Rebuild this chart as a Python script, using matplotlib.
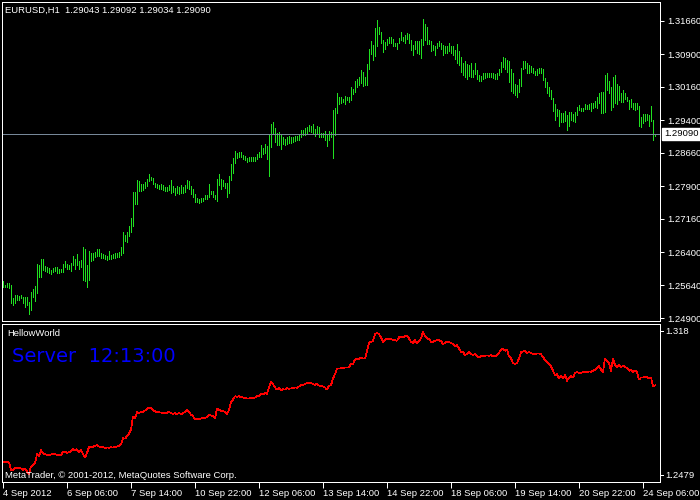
import matplotlib
matplotlib.use("Agg")
import matplotlib.pyplot as plt
from matplotlib.transforms import blended_transform_factory

# chart header
symbol = "EURUSD,H1"
last_ohlc = ["1.29043", "1.29092", "1.29034", "1.29090"]
bid = 1.29090
server_time = "Server  12:13:00"
indicator_name = "HellowWorld"
copyright_text = "MetaTrader, \u00a9 2001-2012, MetaQuotes Software Corp."

# hourly bars (4 Sep 2012 .. 24 Sep 2012 12:00)
bar_high = [
    1.2575, 1.2566, 1.2570, 1.2569, 1.2566, 1.2535, 1.2543, 1.2543, 1.2541, 1.2543, 1.2538, 1.2538, 1.2538, 1.2526, 1.2549, 1.2556, 1.2563,
    1.2613, 1.2611, 1.2625, 1.2625, 1.2608, 1.2607, 1.2604, 1.2599, 1.2604, 1.2607, 1.2607, 1.2602, 1.2601, 1.2613, 1.2620, 1.2614, 1.2611, 1.2616, 1.2631, 1.2625, 1.2635, 1.2620, 1.2622,
    1.2652, 1.2648, 1.2610, 1.2643, 1.2638, 1.2638, 1.2640, 1.2648, 1.2648, 1.2637, 1.2635, 1.2634, 1.2632, 1.2643, 1.2634, 1.2635, 1.2637, 1.2638, 1.2640, 1.2651,
    1.2686, 1.2679, 1.2686, 1.2699, 1.2717, 1.2777, 1.2777, 1.2805, 1.2802, 1.2795, 1.2795, 1.2799, 1.2807, 1.2818, 1.2812, 1.2808, 1.2798, 1.2795, 1.2792, 1.2795,
    1.2792, 1.2789, 1.2789, 1.2792, 1.2804, 1.2790, 1.2786, 1.2790, 1.2789, 1.2792, 1.2789, 1.2792, 1.2804, 1.2801, 1.2790, 1.2784, 1.2772, 1.2763, 1.2761, 1.2763,
    1.2764, 1.2769, 1.2769, 1.2795, 1.2780, 1.2778, 1.2771, 1.2807, 1.2818, 1.2807, 1.2805, 1.2798, 1.2798, 1.2813,
    1.2841, 1.2854, 1.2869, 1.2865, 1.2868, 1.2868, 1.2860, 1.2859, 1.2854, 1.2856, 1.2856, 1.2856, 1.2857, 1.2863, 1.2868, 1.2884, 1.2877, 1.2886, 1.2881, 1.2907,
    1.2932, 1.2936, 1.2922, 1.2912, 1.2913, 1.2907, 1.2901, 1.2897, 1.2901, 1.2904, 1.2901, 1.2901, 1.2904, 1.2904, 1.2906, 1.2918, 1.2919, 1.2922, 1.2924, 1.2930,
    1.2927, 1.2932, 1.2921, 1.2928, 1.2924, 1.2912, 1.2912, 1.2915, 1.2907, 1.2915, 1.2913, 1.2963, 1.2968, 1.3001, 1.2994, 1.2992, 1.2989, 1.2995, 1.2994, 1.2992,
    1.3015, 1.3012, 1.3029, 1.3033, 1.3038, 1.3054, 1.3050, 1.3039, 1.3068, 1.3103, 1.3120, 1.3112, 1.3150, 1.3168, 1.3152, 1.3141, 1.3123, 1.3118, 1.3124, 1.3129,
    1.3130, 1.3124, 1.3117, 1.3117, 1.3127, 1.3141, 1.3130, 1.3135, 1.3138, 1.3136, 1.3123, 1.3111, 1.3120, 1.3121, 1.3120, 1.3126, 1.3171, 1.3158, 1.3153, 1.3123,
    1.3121, 1.3112, 1.3109, 1.3117, 1.3120, 1.3117, 1.3112, 1.3109, 1.3109, 1.3115,
    1.3108, 1.3108, 1.3101, 1.3114, 1.3098, 1.3085, 1.3070, 1.3076, 1.3068, 1.3065, 1.3070, 1.3054, 1.3070, 1.3054, 1.3042, 1.3041, 1.3047, 1.3048, 1.3048, 1.3048,
    1.3048, 1.3048, 1.3045, 1.3048, 1.3056, 1.3073, 1.3085, 1.3082, 1.3077, 1.3076, 1.3057, 1.3047, 1.3023, 1.3020, 1.3035, 1.3060, 1.3074, 1.3076, 1.3071, 1.3065,
    1.3064, 1.3059, 1.3053, 1.3056, 1.3059, 1.3059, 1.3057, 1.3036, 1.3027, 1.3015, 1.3010, 1.2991, 1.2977, 1.2966, 1.2963, 1.2957, 1.2957, 1.2962, 1.2953, 1.2959,
    1.2959, 1.2954, 1.2959, 1.2971, 1.2974, 1.2969, 1.2969, 1.2977, 1.2974, 1.2977, 1.2980, 1.2979, 1.2985, 1.2992, 1.3001, 1.3004, 1.3004, 1.3042, 1.3048, 1.3030,
    1.3015, 1.3039, 1.3044, 1.3023, 1.3018, 1.3003, 1.3009, 1.3003, 1.2992, 1.2986, 1.2989, 1.2980, 1.2979, 1.2980, 1.2972, 1.2947, 1.2954, 1.2954, 1.2954, 1.2951, 1.2972, 1.2941, 1.29092,
]
bar_low = [
    1.2561, 1.2560, 1.2561, 1.2558, 1.2525, 1.2520, 1.2525, 1.2532, 1.2531, 1.2535, 1.2525, 1.2516, 1.2519, 1.2500, 1.2509, 1.2538, 1.2529,
    1.2546, 1.2584, 1.2584, 1.2599, 1.2596, 1.2594, 1.2593, 1.2591, 1.2594, 1.2596, 1.2593, 1.2593, 1.2594, 1.2594, 1.2607, 1.2602, 1.2601, 1.2598, 1.2610, 1.2601, 1.2611, 1.2602, 1.2605,
    1.2576, 1.2575, 1.2560, 1.2576, 1.2619, 1.2622, 1.2628, 1.2632, 1.2631, 1.2626, 1.2626, 1.2625, 1.2623, 1.2625, 1.2625, 1.2626, 1.2626, 1.2628, 1.2629, 1.2634,
    1.2637, 1.2666, 1.2663, 1.2676, 1.2686, 1.2699, 1.2749, 1.2749, 1.2780, 1.2780, 1.2781, 1.2786, 1.2790, 1.2802, 1.2804, 1.2796, 1.2789, 1.2786, 1.2783, 1.2784,
    1.2781, 1.2780, 1.2780, 1.2781, 1.2774, 1.2777, 1.2769, 1.2774, 1.2772, 1.2774, 1.2774, 1.2777, 1.2787, 1.2783, 1.2772, 1.2766, 1.2754, 1.2754, 1.2752, 1.2754,
    1.2757, 1.2760, 1.2761, 1.2766, 1.2772, 1.2766, 1.2760, 1.2757, 1.2792, 1.2784, 1.2790, 1.2787, 1.2766, 1.2774,
    1.2804, 1.2819, 1.2842, 1.2854, 1.2856, 1.2856, 1.2853, 1.2850, 1.2844, 1.2848, 1.2848, 1.2847, 1.2848, 1.2851, 1.2857, 1.2857, 1.2863, 1.2865, 1.2853, 1.2813,
    1.2880, 1.2909, 1.2890, 1.2884, 1.2883, 1.2875, 1.2886, 1.2883, 1.2886, 1.2889, 1.2889, 1.2890, 1.2892, 1.2894, 1.2895, 1.2903, 1.2906, 1.2907, 1.2910, 1.2916,
    1.2913, 1.2909, 1.2904, 1.2910, 1.2903, 1.2903, 1.2901, 1.2894, 1.2881, 1.2895, 1.2903, 1.2854, 1.2907, 1.2956, 1.2977, 1.2980, 1.2982, 1.2977, 1.2986, 1.2982,
    1.2986, 1.3000, 1.3004, 1.3015, 1.3020, 1.3024, 1.3018, 1.3020, 1.3020, 1.3057, 1.3091, 1.3077, 1.3086, 1.3108, 1.3136, 1.3117, 1.3096, 1.3102, 1.3111, 1.3115,
    1.3115, 1.3108, 1.3108, 1.3103, 1.3115, 1.3123, 1.3120, 1.3115, 1.3124, 1.3115, 1.3100, 1.3088, 1.3102, 1.3093, 1.3091, 1.3082, 1.3112, 1.3123, 1.3114, 1.3114,
    1.3097, 1.3100, 1.3088, 1.3105, 1.3108, 1.3103, 1.3089, 1.3093, 1.3093, 1.3097,
    1.3094, 1.3089, 1.3080, 1.3070, 1.3065, 1.3050, 1.3044, 1.3039, 1.3035, 1.3041, 1.3039, 1.3039, 1.3045, 1.3033, 1.3030, 1.3029, 1.3035, 1.3036, 1.3039, 1.3039,
    1.3038, 1.3036, 1.3033, 1.3035, 1.3042, 1.3050, 1.3062, 1.3057, 1.3051, 1.3026, 1.3007, 1.3003, 1.2998, 1.2992, 1.3004, 1.3018, 1.3057, 1.3060, 1.3048, 1.3047,
    1.3050, 1.3047, 1.3042, 1.3044, 1.3047, 1.3048, 1.3032, 1.3015, 1.3003, 1.2995, 1.2988, 1.2962, 1.2941, 1.2950, 1.2928, 1.2936, 1.2936, 1.2939, 1.2919, 1.2927,
    1.2941, 1.2938, 1.2935, 1.2951, 1.2963, 1.2962, 1.2960, 1.2965, 1.2965, 1.2966, 1.2962, 1.2968, 1.2971, 1.2969, 1.2980, 1.2956, 1.2956, 1.2959, 1.3009, 1.3001,
    1.2963, 1.2971, 1.2979, 1.2977, 1.2986, 1.2982, 1.2982, 1.2988, 1.2985, 1.2966, 1.2971, 1.2965, 1.2963, 1.2966, 1.2927, 1.2925, 1.2933, 1.2939, 1.2941, 1.2928, 1.2939, 1.2895, 1.29034,
]
bar_close = [
    1.2563, 1.2564, 1.2566, 1.2562, 1.2530, 1.2528, 1.2538, 1.2536, 1.2538, 1.2536, 1.2530, 1.2534, 1.2522, 1.2510, 1.2545, 1.2550, 1.2558,
    1.2600, 1.2590, 1.2618, 1.2605, 1.2600, 1.2597, 1.2596, 1.2598, 1.2601, 1.2600, 1.2597, 1.2598, 1.2596, 1.2610, 1.2612, 1.2606, 1.2609, 1.2614, 1.2622, 1.2618, 1.2622, 1.2608, 1.2618,
    1.2600, 1.2585, 1.2605, 1.2632, 1.2630, 1.2632, 1.2638, 1.2640, 1.2634, 1.2630, 1.2632, 1.2628, 1.2630, 1.2629, 1.2631, 1.2630, 1.2633, 1.2634, 1.2638, 1.2645,
    1.2672, 1.2670, 1.2680, 1.2692, 1.2710, 1.2770, 1.2760, 1.2790, 1.2785, 1.2790, 1.2790, 1.2796, 1.2805, 1.2808, 1.2806, 1.2800, 1.2792, 1.2790, 1.2788, 1.2788,
    1.2785, 1.2786, 1.2786, 1.2790, 1.2784, 1.2781, 1.2784, 1.2780, 1.2786, 1.2780, 1.2784, 1.2790, 1.2798, 1.2788, 1.2778, 1.2770, 1.2758, 1.2757, 1.2759, 1.2760,
    1.2762, 1.2764, 1.2766, 1.2776, 1.2774, 1.2770, 1.2762, 1.2805, 1.2800, 1.2795, 1.2794, 1.2790, 1.2780, 1.2800,
    1.2835, 1.2845, 1.2860, 1.2858, 1.2860, 1.2857, 1.2855, 1.2852, 1.2850, 1.2850, 1.2852, 1.2850, 1.2855, 1.2860, 1.2860, 1.2872, 1.2868, 1.2877, 1.2870, 1.2900,
    1.2926, 1.2915, 1.2900, 1.2890, 1.2900, 1.2888, 1.2892, 1.2890, 1.2896, 1.2894, 1.2895, 1.2897, 1.2900, 1.2898, 1.2904, 1.2912, 1.2910, 1.2916, 1.2920, 1.2922,
    1.2920, 1.2915, 1.2912, 1.2918, 1.2908, 1.2906, 1.2904, 1.2900, 1.2890, 1.2908, 1.2910, 1.2940, 1.2960, 1.2985, 1.2985, 1.2986, 1.2986, 1.2990, 1.2990, 1.2990,
    1.3008, 1.3006, 1.3025, 1.3030, 1.3028, 1.3035, 1.3030, 1.3030, 1.3062, 1.3100, 1.3105, 1.3108, 1.3140, 1.3145, 1.3140, 1.3125, 1.3105, 1.3115, 1.3118, 1.3120,
    1.3118, 1.3112, 1.3112, 1.3110, 1.3125, 1.3128, 1.3125, 1.3130, 1.3130, 1.3120, 1.3105, 1.3100, 1.3112, 1.3100, 1.3110, 1.3120, 1.3150, 1.3130, 1.3120, 1.3118,
    1.3105, 1.3105, 1.3110, 1.3112, 1.3112, 1.3108, 1.3095, 1.3100, 1.3105, 1.3104,
    1.3100, 1.3095, 1.3085, 1.3090, 1.3075, 1.3060, 1.3062, 1.3045, 1.3050, 1.3060, 1.3050, 1.3045, 1.3050, 1.3040, 1.3035, 1.3040, 1.3040, 1.3042, 1.3044, 1.3042,
    1.3045, 1.3040, 1.3040, 1.3045, 1.3055, 1.3070, 1.3075, 1.3065, 1.3070, 1.3040, 1.3030, 1.3010, 1.3005, 1.3010, 1.3030, 1.3058, 1.3062, 1.3065, 1.3055, 1.3058,
    1.3055, 1.3050, 1.3048, 1.3052, 1.3052, 1.3050, 1.3035, 1.3025, 1.3012, 1.3005, 1.2995, 1.2975, 1.2955, 1.2960, 1.2940, 1.2950, 1.2942, 1.2955, 1.2930, 1.2945,
    1.2950, 1.2945, 1.2965, 1.2968, 1.2965, 1.2966, 1.2968, 1.2970, 1.2968, 1.2972, 1.2970, 1.2975, 1.2980, 1.2988, 1.2995, 1.2980, 1.2970, 1.3030, 1.3020, 1.3010,
    1.2975, 1.3030, 1.3000, 1.2990, 1.3000, 1.2990, 1.2998, 1.2992, 1.2988, 1.2975, 1.2980, 1.2970, 1.2975, 1.2970, 1.2935, 1.2945, 1.2945, 1.2948, 1.2946, 1.2940, 1.2945, 1.2905, 1.2909,
]

price_ticks = [1.3166, 1.3090, 1.3016, 1.2940, 1.2866, 1.2790, 1.2716, 1.2640, 1.2564, 1.2490]
time_labels = ["4 Sep 2012", "6 Sep 06:00", "7 Sep 14:00", "10 Sep 22:00", "12 Sep 06:00",
               "13 Sep 14:00", "14 Sep 22:00", "18 Sep 06:00", "19 Sep 14:00", "20 Sep 22:00",
               "24 Sep 06:00"]
ind_max, ind_min = 1.318, 1.2479

BAR_COLOR = "#20E020"
PX = 0.72  # one pixel in points at 100 dpi
small = dict(family="Liberation Sans", size=6.8)

fig = plt.figure(figsize=(7, 5), dpi=100, facecolor="black")
W, H = 700, 500
ax = fig.add_axes([2 / W, 1 - 321 / H, 658 / W, 319 / H], facecolor="black")
ax2 = fig.add_axes([2 / W, 1 - 482 / H, 658 / W, 158 / H], facecolor="black")

n = len(bar_high)
xs = list(range(n))

# price bars
ax.vlines(xs, bar_low, bar_high, colors=BAR_COLOR, linewidth=PX, antialiased=False)
ax.axhline(bid, color="#778899", linewidth=PX, antialiased=False)
ax.set_xlim(-0.5, 328.5)
ax.set_ylim(1.24832, 1.32092)

# indicator window (close line)
ax2.plot(xs, bar_close, color="red", linewidth=0.5, antialiased=False)
ax2.set_xlim(-0.5, 328.5)
ax2.set_ylim(1.2475, 1.3185)

for a in (ax, ax2):
    for s in a.spines.values():
        s.set_color("white")
        s.set_linewidth(PX)
    a.yaxis.tick_right()
    a.tick_params(colors="white", length=3, width=PX, pad=2, labelsize=6.8)

ax.set_xticks([])
ax.set_yticks(price_ticks)
ax.set_yticklabels([f"{v:.5f}" for v in price_ticks], **small)

# indicator scale labels sit just inside the window edges, with a short tick
trans2 = blended_transform_factory(ax2.transAxes, ax2.transAxes)
ax2.set_yticks([])
for frac, val in ((1 - 7 / 158, ind_max), (7 / 158, ind_min)):
    ax2.plot([1.0, 1.0 + 3 / 658], [frac, frac], transform=trans2, color="white",
             linewidth=PX, clip_on=False, antialiased=False)
    ax2.text(1.0 + 5 / 658, frac, f"{val:g}", transform=trans2, color="white",
             ha="left", va="center", **small)
ax2.set_xticks([32 * k for k in range(len(time_labels))])
ax2.set_xticklabels(time_labels, ha="left", **small)
ax2.tick_params(axis="x", length=4, pad=1)

# current bid price marker
trans = blended_transform_factory(ax.transAxes, ax.transData)
ax.text(1.0 + 4 / 658, bid, f"{bid:.5f}", transform=trans, ha="left", va="center",
        color="black", clip_on=False,
        bbox=dict(boxstyle="square,pad=0.2", facecolor="white", edgecolor="white"), **small)

# labels
fig.text(5 / W, 1 - 10 / H, symbol + "  " + " ".join(last_ohlc), color="white",
         va="center", ha="left", **small)
fig.text(7 / W, 1 - 334 / H, indicator_name, color="white", va="center", ha="left", **small)
fig.text(12 / W, 1 - 356 / H, server_time, color="#0000FF", va="center", ha="left",
         family="DejaVu Sans", size=14)
fig.text(5 / W, 1 - 475 / H, copyright_text, color="white", va="center", ha="left", **small)

fig.savefig("out.png", dpi=100, facecolor="black")
